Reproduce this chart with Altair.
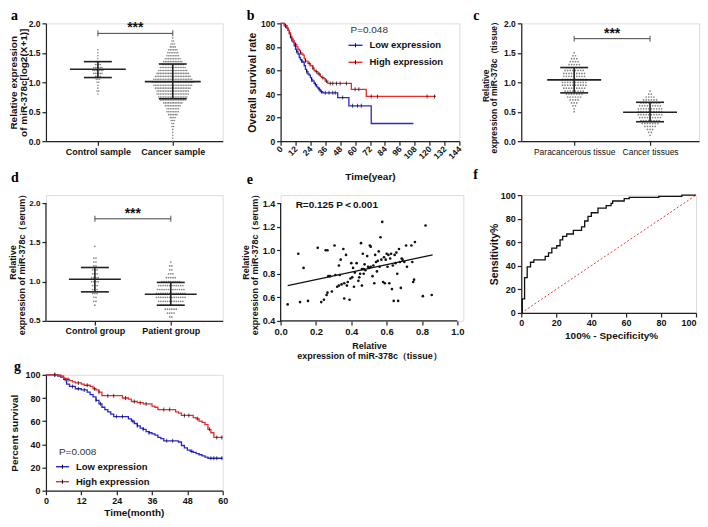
import altair as alt
import pandas as pd

FONT = "Liberation Sans"
SERIF = "Liberation Serif"
INK = "#222222"
LAB = "#111111"
DOT = "#858585"
BLUE = "#2828d8"
RED = "#ec2a2a"
SIG_TEXT = "***"

# ================= panel a =================
A_CATS = ["Control sample", "Cancer sample"]
A_CTRL_VAL = [0.80, 0.85, 0.90, 0.95, 1.00, 1.05, 1.10, 1.15, 1.20, 1.25, 1.30, 1.35, 1.40, 1.45, 1.50, 1.55]
A_CTRL_N = [1, 2, 1, 1, 2, 3, 4, 6, 7, 6, 4, 3, 1, 1, 1, 1]
A_CANC_VAL = [0.00, 0.05, 0.10, 0.15, 0.20, 0.25, 0.30, 0.35, 0.40, 0.45, 0.50, 0.55,
              0.60, 0.65, 0.70, 0.75, 0.80, 0.85, 0.90, 0.95, 1.00, 1.05, 1.10, 1.15,
              1.20, 1.25, 1.30, 1.35, 1.40, 1.45, 1.50, 1.55, 1.60, 1.65, 1.70, 1.75]
A_CANC_N = [1, 1, 1, 1, 1, 2, 2, 3, 4, 6, 8, 8,
            10, 12, 16, 18, 20, 20, 22, 24, 26, 24, 22, 20,
            18, 16, 14, 12, 10, 8, 7, 6, 4, 3, 2, 1]
A_MEAN = [1.22, 1.01]
A_SD_LO = [1.08, 0.72]
A_SD_HI = [1.35, 1.31]
A_SIG_Y = 1.83
A_YTICKS = [0.0, 0.5, 1.0, 1.5, 2.0]

# ================= panel b =================
B_LOW_T = [0, 3, 5, 6, 7, 8, 9, 10, 11, 12, 13, 14, 15, 16, 17, 18, 19, 20, 21, 22,
           23, 24, 25, 26, 27, 28, 29, 30, 31, 32, 34, 46, 55, 73, 107]
B_LOW_S = [100, 98, 96, 94, 91, 88, 86, 84, 81, 78, 76, 74, 71, 69, 68, 67, 64, 61, 59, 57,
           56, 54, 52, 51, 49, 48, 46, 45, 44, 42, 41, 37, 30, 15, 15]
B_HIGH_T = [0, 3, 5, 6, 7, 8, 9, 10, 11, 12, 13, 14, 15, 16, 17, 18, 19, 20, 22, 24,
            26, 27, 28, 30, 32, 33, 35, 36, 38, 57, 69, 125]
B_HIGH_S = [100, 98, 96, 94, 92, 89, 87, 85, 83, 82, 80, 78, 77, 75, 74, 73, 70, 68, 66, 64,
            62, 60, 59, 57, 55, 54, 53, 51, 49, 44, 38, 38]
B_LOW_CENS = [4, 9, 13, 17, 21, 25, 28, 31, 33, 36, 39, 42, 44, 50, 58, 62, 65]
B_HIGH_CENS = [4, 8, 12, 16, 20, 23, 26, 29, 31, 34, 37, 40, 42, 45, 48, 53, 60, 63, 73, 78, 118, 124]
B_XTICKS = [0, 12, 24, 36, 48, 60, 72, 84, 96, 108, 120, 132, 144]
B_YTICKS = [0, 20, 40, 60, 80, 100]
B_P = "P=0.048"
LEG_LOW = "Low expression"
LEG_HIGH = "High expression"

# ================= panel c =================
C_CATS = ["Paracancerous tissue", "Cancer tissues"]
C_PARA_VAL = [0.50, 0.55, 0.60, 0.65, 0.70, 0.75, 0.80, 0.85, 0.90, 0.95, 1.00,
              1.05, 1.10, 1.15, 1.20, 1.25, 1.30, 1.35, 1.40, 1.45, 1.50]
C_PARA_N = [1, 1, 2, 3, 4, 6, 7, 8, 9, 10, 10, 10, 9, 9, 8, 7, 5, 4, 3, 2, 1]
C_CANC_VAL = [0.10, 0.15, 0.20, 0.25, 0.30, 0.35, 0.40, 0.45, 0.50, 0.55, 0.60,
              0.65, 0.70, 0.75, 0.80, 0.85]
C_CANC_N = [1, 2, 3, 5, 7, 8, 9, 10, 10, 10, 9, 8, 6, 4, 2, 1]
C_MEAN = [1.04, 0.49]
C_SD_LO = [0.82, 0.33]
C_SD_HI = [1.25, 0.66]
C_SIG_Y = 1.74
C_YTICKS = [0.0, 0.5, 1.0, 1.5, 2.0]

# ================= panel d =================
D_CATS = ["Control group", "Patient group"]
D_CTRL_VAL = [0.70, 0.75, 0.80, 0.85, 0.90, 0.95, 1.00, 1.05, 1.10, 1.15, 1.20, 1.25, 1.30, 1.45]
D_CTRL_N = [1, 2, 2, 3, 3, 3, 4, 4, 3, 3, 2, 2, 2, 1]
D_PAT_VAL = [0.55, 0.60, 0.65, 0.70, 0.75, 0.80, 0.85, 0.90, 0.95, 1.00, 1.05, 1.10, 1.15, 1.20, 1.25]
D_PAT_N = [2, 4, 6, 10, 12, 14, 14, 13, 12, 9, 5, 3, 2, 2, 1]
D_MEAN = [1.03, 0.84]
D_SD_LO = [0.87, 0.70]
D_SD_HI = [1.18, 0.99]
D_SIG_Y = 1.80
D_YTICKS = [0.5, 1.0, 1.5, 2.0]

# ================= panel e =================
E_X = [0.04, 0.10, 0.11, 0.13, 0.155, 0.21, 0.23, 0.245, 0.255, 0.26,
       0.265, 0.265, 0.27, 0.28, 0.29, 0.305, 0.31, 0.32, 0.33, 0.33,
       0.335, 0.34, 0.345, 0.355, 0.36, 0.36, 0.37, 0.375, 0.38, 0.39,
       0.395, 0.40, 0.405, 0.41, 0.415, 0.42, 0.43, 0.44, 0.445, 0.45,
       0.455, 0.46, 0.46, 0.465, 0.47, 0.47, 0.475, 0.48, 0.49, 0.495,
       0.50, 0.505, 0.51, 0.51, 0.52, 0.525, 0.53, 0.535, 0.54, 0.545,
       0.55, 0.555, 0.56, 0.565, 0.57, 0.575, 0.58, 0.585, 0.59, 0.595,
       0.60, 0.605, 0.61, 0.615, 0.62, 0.625, 0.63, 0.635, 0.64, 0.645,
       0.65, 0.655, 0.66, 0.665, 0.67, 0.675, 0.68, 0.685, 0.69, 0.70,
       0.71, 0.715, 0.74, 0.75, 0.755, 0.76, 0.805, 0.82, 0.855, 0.745]
E_Y = [0.54, 0.97, 0.56, 0.85, 0.57, 1.02, 0.56, 0.58, 1.00, 0.62,
       0.64, 1.00, 0.78, 0.78, 0.65, 1.04, 0.79, 0.69, 0.70, 0.87,
       0.79, 0.92, 0.71, 1.01, 0.72, 0.59, 0.96, 0.70, 0.73, 0.58,
       0.76, 0.89, 0.77, 0.85, 0.69, 0.81, 0.89, 0.74, 0.77, 0.80,
       1.06, 0.70, 0.84, 0.97, 0.80, 0.84, 0.88, 0.83, 0.95, 0.86,
       0.85, 1.04, 0.86, 1.03, 0.78, 0.87, 0.72, 0.96, 0.90, 0.82,
       0.91, 0.99, 0.86, 1.11, 0.92, 1.24, 0.73, 0.94, 0.72, 0.92,
       0.97, 0.86, 0.96, 0.72, 0.93, 0.97, 0.67, 0.87, 0.57, 0.96,
       0.89, 0.98, 0.80, 0.57, 1.01, 0.90, 0.68, 0.93, 0.92, 0.90,
       1.04, 0.86, 1.04, 0.73, 0.75, 1.07, 0.61, 1.21, 0.62, 0.90]
E_FIT_X = [0.04, 0.86]
E_FIT_Y = [0.70, 0.96]
E_TEXT = "R=0.125 P＜0.001"
E_XTICKS = [0.0, 0.2, 0.4, 0.6, 0.8, 1.0]
E_YTICKS = [0.4, 0.6, 0.8, 1.0, 1.2, 1.4]

# ================= panel f =================
F_FPR = [0, 0.6, 1.9, 3.4, 5.3, 7.2, 13.7, 15.6, 17.5, 20.3,
         22.2, 23.7, 26.0, 29.8, 34.5, 36.3, 38.2, 40.1, 43.9, 48.6,
         51.4, 52.3, 58.9, 61.8, 78.7, 91.9, 100]
F_TPR = [0, 12, 30, 39, 43, 45, 48, 51, 55, 57,
         62, 65, 67, 70, 73, 78, 82, 85, 89, 91,
         93, 95, 97, 98, 99, 100, 100]
F_DIAG = [0, 100]
F_TICKS = [0, 20, 40, 60, 80, 100]

# ================= panel g =================
G_LOW_T = [0, 4, 5, 6, 7, 8, 10, 12, 14, 15, 16, 17, 18, 19, 20, 21, 22, 23, 28, 29,
           30, 31, 32, 33, 34, 35, 36, 37, 38, 39, 40, 45, 46, 47, 48, 49, 50, 51, 52, 53,
           54, 55, 60]
G_LOW_S = [100, 99, 98, 96, 92, 90, 88, 87, 85, 83, 81, 78, 75, 72, 70, 68, 66, 64, 62, 60,
           58, 56, 54, 53, 51, 50, 49, 48, 46, 45, 43, 42, 39, 37, 35, 34, 33, 32, 31, 30,
           29, 28, 28]
G_HIGH_T = [0, 5, 6, 7, 8, 9, 10, 12, 13, 15, 16, 17, 18, 19, 26, 28, 29, 31, 33, 36,
            37, 38, 44, 45, 46, 50, 51, 52, 53, 54, 55, 56, 57, 60]
G_HIGH_S = [100, 99, 97, 96, 95, 94, 93, 92, 91, 90, 88, 87, 85, 82, 80, 79, 77, 76, 75, 73,
            72, 70, 68, 67, 65, 63, 62, 60, 59, 57, 53, 50, 46, 46]
G_LOW_CENS = [3, 6.5, 9, 11, 13, 17, 18.5, 24, 26, 29.5, 31, 33, 35, 41, 43, 49.5, 56, 57, 58, 59.7]
G_HIGH_CENS = [3, 7.5, 11, 14, 16.5, 18, 21, 23, 27, 30, 32, 34, 40, 42, 47, 48.5, 51.5, 55.5, 58, 59.7]
G_XTICKS = [0, 12, 24, 36, 48, 60]
G_YTICKS = [0, 20, 40, 60, 80, 100]
G_P = "P=0.008"

ONE = pd.DataFrame({"k": [0]})


# ================= helpers =================
def y_axis(values, fmt, title, tx, ty, tfs, lfs, domain=True):
    return alt.Axis(values=values, format=fmt, title=title, titleX=tx, titleY=ty,
                    titleAngle=270, titleAlign="center", titleBaseline="top",
                    titleFont=FONT, titleFontSize=tfs, titleFontWeight="bold",
                    titleColor=LAB, titleLineHeight=tfs,
                    labelFont=FONT, labelFontSize=lfs, labelFontWeight="bold",
                    labelColor=LAB, labelPadding=2, tickSize=4, tickColor=INK,
                    tickWidth=1.2, domain=domain, domainColor=INK, domainWidth=1.2,
                    grid=False, labelFlush=False, labelOverlap=False)


def x_axis(values, fmt=None, label_expr=None, title=None, tx=None, ty=None, tfs=10,
           lfs=9, lweight="bold", angle=None, domain=True, tlh=None, last_right=None):
    kw = dict(values=values, labelFont=FONT, labelFontSize=lfs, labelFontWeight=lweight,
              labelColor=LAB, labelPadding=2, tickSize=4, tickColor=INK, tickWidth=1.2,
              domain=domain, domainColor=INK, domainWidth=1.2, grid=False,
              labelFlush=False, labelOverlap=False)
    if fmt:
        kw["format"] = fmt
    if label_expr:
        kw["labelExpr"] = label_expr
    if title is None:
        kw["title"] = None
    else:
        kw.update(title=title, titleX=tx, titleY=ty, titleAlign="center",
                  titleBaseline="top", titleFont=FONT, titleFontSize=tfs,
                  titleFontWeight="bold", titleColor=LAB, titleLineHeight=tlh or tfs)
    if angle is not None:
        kw.update(labelAngle=angle, labelAlign="right", labelBaseline="middle")
    if last_right is not None:
        kw["labelAlign"] = {"condition": {"test": f"datum.value == {last_right}", "value": "right"},
                            "value": "center"}
    return alt.Axis(**kw)


def letter(ch, x, y):
    return alt.Chart(ONE).mark_text(text=ch, font=SERIF, fontSize=14, fontWeight="bold",
                                    align="left", baseline="top", color="#000000").encode(
        x=alt.value(x), y=alt.value(y))


def ptext(txt, x, y, size=10, weight="normal", color="#333333"):
    return alt.Chart(ONE).mark_text(text=txt, font=FONT, fontSize=size, fontWeight=weight,
                                    align="left", baseline="middle", color=color).encode(
        x=alt.value(x), y=alt.value(y))


def legend_item(x0, x1, y, color, label, tx):
    line = alt.Chart(ONE).mark_rule(color=color, strokeWidth=1.4).encode(
        x=alt.value(x0), x2=alt.value(x1), y=alt.value(y))
    tick = alt.Chart(ONE).mark_rule(color="#000000", strokeWidth=1).encode(
        x=alt.value((x0 + x1) / 2), y=alt.value(y - 2), y2=alt.value(y + 2))
    return [line, tick, ptext(label, tx, y, size=9.5, weight="bold", color="#111111")]


def swarm(vals, counts, cat, dx):
    xs, ys = [], []
    for v, n in zip(vals, counts):
        for k in range(n):
            xs.append(cat + (k - (n - 1) / 2) * dx)
            ys.append(v)
    return pd.DataFrame({"x": xs, "y": ys})


def surv_at(ts, ss, c):
    v = ss[0]
    for t, s in zip(ts, ss):
        if t <= c:
            v = s
    return v


def dot_panel(cats, groups, dx, means, lo, hi, xdom, ydom, yticks, w, h, ytitle, tx, ty,
              tfs, lfs, cat_fs, cat_w, mean_hw, cap_hw, sig_y, let, lx, ly, ydomain_line=True,
              dot_size=3):
    pts = pd.concat([swarm(v, n, i, dx) for i, (v, n) in enumerate(groups)], ignore_index=True)
    X = alt.X("x:Q", scale=alt.Scale(domain=xdom, nice=False, zero=False),
              axis=x_axis([0, 1], label_expr=f"datum.value == 0 ? '{cats[0]}' : '{cats[1]}'",
                          lfs=cat_fs, lweight=cat_w))
    Y = alt.Y("y:Q", scale=alt.Scale(domain=ydom, nice=False, zero=False),
              axis=y_axis(yticks, ".1f", ytitle, tx, ty, tfs, lfs, domain=ydomain_line))
    layers = []
    if not ydomain_line:
        ax = pd.DataFrame({"x": [xdom[0]], "y": [yticks[0]], "y2": [yticks[-1]]})
        layers.append(alt.Chart(ax).mark_rule(color=INK, strokeWidth=1.2).encode(X, Y, alt.Y2("y2")))
    layers.append(alt.Chart(pts).mark_circle(size=dot_size, color=DOT, opacity=1).encode(X, Y))
    mdf = pd.DataFrame({"x": [i - mean_hw for i in range(2)],
                        "x2": [i + mean_hw for i in range(2)], "y": means})
    layers.append(alt.Chart(mdf).mark_rule(color=INK, strokeWidth=1.6).encode(X, alt.X2("x2"), Y))
    sdf = pd.DataFrame({"x": [0, 1], "y": lo, "y2": hi})
    layers.append(alt.Chart(sdf).mark_rule(color=INK, strokeWidth=1.6).encode(X, Y, alt.Y2("y2")))
    cdf = pd.DataFrame({"x": [0 - cap_hw, 1 - cap_hw, 0 - cap_hw, 1 - cap_hw],
                        "x2": [0 + cap_hw, 1 + cap_hw, 0 + cap_hw, 1 + cap_hw],
                        "y": list(lo) + list(hi)})
    layers.append(alt.Chart(cdf).mark_rule(color=INK, strokeWidth=1.6).encode(X, alt.X2("x2"), Y))
    bdf = pd.DataFrame({"x": [0], "x2": [1], "y": [sig_y]})
    layers.append(alt.Chart(bdf).mark_rule(color="#444444", strokeWidth=1).encode(X, alt.X2("x2"), Y))
    edf = pd.DataFrame({"x": [0, 1], "y": [sig_y, sig_y]})
    layers.append(alt.Chart(edf).mark_tick(orient="vertical", size=6, thickness=1.2,
                                           color="#333333").encode(X, Y))
    tdf = pd.DataFrame({"x": [0.5], "y": [sig_y]})
    layers.append(alt.Chart(tdf).mark_text(text=SIG_TEXT, font=FONT, fontSize=14, fontWeight="bold",
                                           baseline="alphabetic", dy=-1, color="#111111").encode(X, Y))
    layers.append(letter(let, lx, ly))
    return alt.layer(*layers).properties(width=w, height=h)


def km_layers(X, Y, ts, ss, cens, color):
    df = pd.DataFrame({"x": ts, "y": ss})
    line = alt.Chart(df).mark_line(interpolate="step-after", color=color, strokeWidth=1.3).encode(X, Y)
    cdf = pd.DataFrame({"x": cens, "y": [surv_at(ts, ss, c) for c in cens]})
    ticks = alt.Chart(cdf).mark_tick(orient="vertical", size=4, thickness=1,
                                     color="#000000").encode(X, Y)
    return [line, ticks]


# ================= panel a =================
pa = dot_panel(A_CATS, [(A_CTRL_VAL, A_CTRL_N), (A_CANC_VAL, A_CANC_N)], 1.65 / 75,
               A_MEAN, A_SD_LO, A_SD_HI, [-52 / 75, 125 / 75], [0, 2.0], A_YTICKS, 177, 118,
               ["Relative expression", "of miR-378c[log2(X+1)]"], -37, 59, 10, 8.5, 9, "bold",
               28 / 75, 14 / 75, A_SIG_Y, "a", -35, -14, dot_size=2.6)

# ================= panel c =================
pc = dot_panel(C_CATS, [(C_PARA_VAL, C_PARA_N), (C_CANC_VAL, C_CANC_N)], 2.6 / 76,
               C_MEAN, C_SD_LO, C_SD_HI, [-53 / 76, 125 / 76], [0, 2.0], C_YTICKS, 178, 118,
               ["Relative", "expression of miR-378c（tissue）"], -40, 62, 8.5, 8.5, 8.5, "normal",
               27 / 76, 14 / 76, C_SIG_Y, "c", -48, -14)

# ================= panel d =================
pdd = dot_panel(D_CATS, [(D_CTRL_VAL, D_CTRL_N), (D_PAT_VAL, D_PAT_N)], 2.2 / 76,
                D_MEAN, D_SD_LO, D_SD_HI, [-49 / 76, 128 / 76], [0.5, 2.0 + 8 / 78.67], D_YTICKS,
                177, 126, ["Relative", "expression of miR-378c（serum）"], -37, 67, 9, 8, 9, "bold",
                26 / 76, 14 / 76, D_SIG_Y, "d", -35, -24, ydomain_line=False)

# ================= panel b =================
Xb = alt.X("x:Q", scale=alt.Scale(domain=[0, 144], nice=False, zero=False),
           axis=x_axis(B_XTICKS, fmt="d", title="Time(year)", tx=89.5, ty=30, tfs=10, lfs=8.5,
                       angle=315))
Yb = alt.Y("y:Q", scale=alt.Scale(domain=[0, 100], nice=False, zero=False),
           axis=y_axis(B_YTICKS, "d", "Overall survival rate", -33, 59, 10.5, 8.5))
b_layers = km_layers(Xb, Yb, B_LOW_T, B_LOW_S, B_LOW_CENS, BLUE) + \
    km_layers(Xb, Yb, B_HIGH_T, B_HIGH_S, B_HIGH_CENS, RED)
b_layers.append(ptext(B_P, 70, 7, size=10, weight="normal", color="#333333"))
b_layers += legend_item(68, 82, 22, BLUE, LEG_LOW, 89)
b_layers += legend_item(68, 82, 39, RED, LEG_HIGH, 89)
b_layers.append(letter("b", -34, -14))
pb = alt.layer(*b_layers).properties(width=179, height=118)

# ================= panel e =================
Xe = alt.X("x:Q", scale=alt.Scale(domain=[0, 1.0 + 6 / 177], nice=False, zero=False),
           axis=x_axis(E_XTICKS, fmt=".1f", title=["Relative", "expression of miR-378c（tissue）"],
                       tx=88.5, ty=20.5, tfs=9, lfs=9.5, domain=False, tlh=10))
Ye = alt.Y("y:Q", scale=alt.Scale(domain=[0.4, 1.4 + 8 / 118], nice=False, zero=False),
           axis=y_axis(E_YTICKS, ".1f", ["Relative", "expression of miR-378c（serum）"], -39, 67, 9,
                       9, domain=False))
e_axx = pd.DataFrame({"x": [0.0], "x2": [1.0], "y": [0.4]})
e_axy = pd.DataFrame({"x": [0.0], "y": [0.4], "y2": [1.4]})
e_pts = pd.DataFrame({"x": E_X, "y": E_Y})
e_fit = pd.DataFrame({"x": E_FIT_X, "y": E_FIT_Y})
e_txt = pd.DataFrame({"x": [0.085], "y": [1.385]})
pe = alt.layer(
    alt.Chart(e_axx).mark_rule(color=INK, strokeWidth=1.2).encode(Xe, alt.X2("x2"), Ye),
    alt.Chart(e_axy).mark_rule(color=INK, strokeWidth=1.2).encode(Xe, Ye, alt.Y2("y2")),
    alt.Chart(e_pts).mark_circle(size=7, color="#111111", opacity=1).encode(Xe, Ye),
    alt.Chart(e_fit).mark_line(color="#111111", strokeWidth=1.2).encode(Xe, Ye),
    alt.Chart(e_txt).mark_text(text=E_TEXT, font=FONT, fontSize=10, fontWeight="bold",
                               align="left", baseline="middle", color="#111111").encode(Xe, Ye),
    letter("e", -34, -22),
).properties(width=183, height=126)

# ================= panel f =================
Xf = alt.X("x:Q", scale=alt.Scale(domain=[0, 100], nice=False, zero=False),
           axis=x_axis(F_TICKS, fmt="d", title="100% - Specificity%", tx=90, ty=18, tfs=10, lfs=9,
                       last_right=100))
Yf = alt.Y("y:Q", scale=alt.Scale(domain=[0, 100], nice=False, zero=False),
           axis=y_axis(F_TICKS, "d", "Sensitivity%", -32, 59, 10.5, 9))
f_diag = pd.DataFrame({"x": F_DIAG, "y": F_DIAG})
f_roc = pd.DataFrame({"x": F_FPR, "y": F_TPR, "i": list(range(len(F_FPR)))})
pf = alt.layer(
    alt.Chart(f_diag).mark_line(color="#ee3333", strokeWidth=1, strokeDash=[2, 2]).encode(Xf, Yf),
    alt.Chart(f_roc).mark_line(interpolate="step-after", color="#111111", strokeWidth=1.3).encode(
        Xf, Yf, alt.Order("i:Q")),
    letter("f", -48, -27),
).properties(width=175, height=118)

# ================= panel g =================
Xg = alt.X("x:Q", scale=alt.Scale(domain=[0, 60], nice=False, zero=False),
           axis=x_axis(G_XTICKS, fmt="d", title="Time(month)", tx=88, ty=17, tfs=10, lfs=9))
Yg = alt.Y("y:Q", scale=alt.Scale(domain=[0, 100], nice=False, zero=False),
           axis=y_axis(G_YTICKS, "d", "Percent survival", -36, 58, 10, 9))
g_layers = km_layers(Xg, Yg, G_LOW_T, G_LOW_S, G_LOW_CENS, BLUE) + \
    km_layers(Xg, Yg, G_HIGH_T, G_HIGH_S, G_HIGH_CENS, RED)
g_layers.append(ptext(G_P, 13, 77, size=10, weight="normal", color="#333333"))
g_layers += legend_item(10, 23, 92, BLUE, LEG_LOW, 30)
g_layers += legend_item(10, 23, 107, RED, LEG_HIGH, 30)
g_layers.append(letter("g", -32, -15))
pg = alt.layer(*g_layers).properties(width=177, height=116)

chart = alt.concat(pa, pb, pc, pdd, pe, pf, pg, columns=3,
                   spacing={"row": 54, "column": 58}, bounds="flush", align="each",
                   padding=0).configure_view(stroke=None).configure(background="white")

chart.save("out.html", embed_options={"renderer": "svg", "actions": False})
